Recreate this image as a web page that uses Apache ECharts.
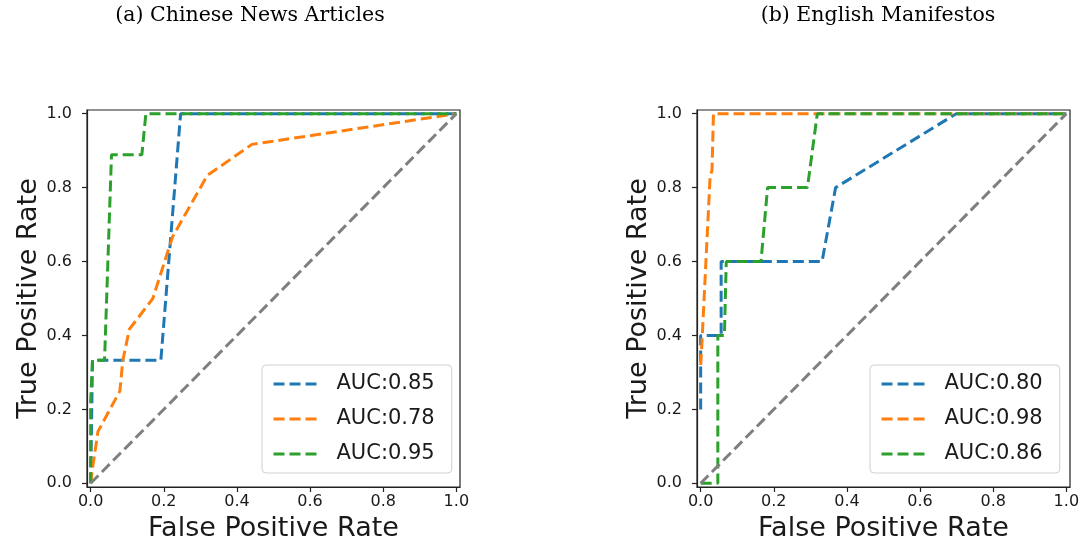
<!DOCTYPE html>
<html>
<head>
<meta charset="utf-8">
<script src="https://cdn.jsdelivr.net/npm/echarts@6/dist/echarts.min.js"></script>
<style>
html, body { margin: 0; padding: 0; background: #fff; }
#chart { width: 1087px; height: 550px; }
</style>
</head>
<body>
<div id="chart"></div>
<script>
// tick values shared by both panels
var rateTicks = [0, 0.2, 0.4, 0.6, 0.8, 1.0]

// (a) Chinese news articles
var newsNames = ['AUC:0.85', 'AUC:0.78', 'AUC:0.95']
var newsFpr1 = [0, 0.005, 0.192, 0.246, 1]
var newsTpr1 = [0, 0.333, 0.333, 1, 1]
var newsFpr2 = [0, 0.005, 0.02, 0.08, 0.088, 0.106, 0.17, 0.224, 0.319, 0.441, 1]
var newsTpr2 = [0, 0.04, 0.14, 0.25, 0.333, 0.417, 0.5, 0.667, 0.833, 0.917, 1]
var newsFpr3 = [0, 0, 0.005, 0.038, 0.057, 0.14, 0.151, 1]
var newsTpr3 = [0, 0.222, 0.333, 0.333, 0.889, 0.889, 1, 1]

// (b) English manifestos
var manifestoNames = ['AUC:0.80', 'AUC:0.98', 'AUC:0.86']
var manFpr1 = [0, 0, 0.056, 0.056, 0.332, 0.369, 0.699, 1]
var manTpr1 = [0.2, 0.4, 0.4, 0.6, 0.6, 0.8, 1, 1]
var manFpr2 = [0, 0.003, 0.026, 0.031, 0.035, 1]
var manTpr2 = [0.32, 0.37, 0.833, 0.846, 1, 1]
var manFpr3 = [0, 0.047, 0.047, 0.065, 0.07, 0.165, 0.183, 0.292, 0.319, 1]
var manTpr3 = [0, 0, 0.4, 0.4, 0.6, 0.6, 0.8, 0.8, 1, 1]

// random guess diagonal
var chanceFpr = [0, 1]
var chanceTpr = [0, 1]

var colors = ['#1f77b4', '#ff7f0e', '#2ca02c']
var font = 'DejaVu Sans'
var dash = [11, 5]

function rocSeries(name, fpr, tpr, color, idx) {
  return {
    name: name,
    type: 'line',
    xAxisIndex: idx,
    yAxisIndex: idx,
    data: fpr.map(function(x, i) { return [x, tpr[i]] }),
    symbol: 'none',
    showSymbol: false,
    silent: true,
    itemStyle: { color: color },
    lineStyle: { color: color, width: 3, type: dash }
  }
}

function xAxisFor(idx) {
  return {
    gridIndex: idx,
    type: 'value',
    min: -0.01,
    max: 1.01,
    name: 'False Positive Rate',
    nameLocation: 'middle',
    nameGap: 28,
    nameTextStyle: { fontFamily: font, fontSize: 27, color: '#1a1a1a' },
    axisLine: { show: true, onZero: false, lineStyle: { color: '#222', width: 1.2 } },
    axisTick: { show: true, length: 5, customValues: rateTicks, lineStyle: { color: '#222', width: 1.2 } },
    axisLabel: {
      customValues: rateTicks,
      margin: 7,
      fontFamily: font,
      fontSize: 16,
      color: '#1a1a1a',
      formatter: function(v) { return v.toFixed(1) }
    },
    splitLine: { show: false }
  }
}

function yAxisFor(idx) {
  return {
    gridIndex: idx,
    type: 'value',
    min: -0.01,
    max: 1.01,
    name: 'True Positive Rate',
    nameLocation: 'middle',
    nameGap: 43,
    nameTextStyle: { fontFamily: font, fontSize: 27, color: '#1a1a1a' },
    axisLine: { show: true, onZero: false, lineStyle: { color: '#222', width: 1.2 } },
    axisTick: { show: true, length: 5, customValues: rateTicks, lineStyle: { color: '#222', width: 1.2 } },
    axisLabel: {
      customValues: rateTicks,
      margin: 15,
      fontFamily: font,
      fontSize: 16,
      color: '#1a1a1a',
      formatter: function(v) { return v.toFixed(1) }
    },
    splitLine: { show: false }
  }
}

function legendFor(names, left) {
  return {
    data: names,
    left: left,
    top: 365,
    orient: 'vertical',
    selectedMode: false,
    backgroundColor: 'rgba(255,255,255,0.8)',
    borderColor: '#d0d0d0',
    borderWidth: 1,
    borderRadius: 4,
    padding: [8, 17, 8, 10],
    itemGap: 13,
    itemWidth: 46,
    itemHeight: 22,
    itemStyle: { opacity: 0 },
    lineStyle: { width: 3, type: dash },
    textStyle: { fontFamily: font, fontSize: 21, color: '#1a1a1a', lineHeight: 22, padding: [0, 0, 0, 12] }
  }
}

var chart = echarts.init(document.getElementById('chart'))

chart.setOption({
  animation: false,
  backgroundColor: '#fff',
  graphic: [
    {
      type: 'text', x: 250, y: 16,
      style: { text: '(a) Chinese News Articles', font: '20.5px "DejaVu Serif"', fill: '#000', textAlign: 'center', textVerticalAlign: 'middle' }
    },
    {
      type: 'text', x: 878, y: 16,
      style: { text: '(b) English Manifestos', font: '20.5px "DejaVu Serif"', fill: '#000', textAlign: 'center', textVerticalAlign: 'middle' }
    }
  ],
  grid: [
    { left: 87, top: 110, width: 373, height: 377, show: true, borderColor: '#222', borderWidth: 1.2 },
    { left: 697, top: 110, width: 373, height: 377, show: true, borderColor: '#222', borderWidth: 1.2 }
  ],
  xAxis: [xAxisFor(0), xAxisFor(1)],
  yAxis: [yAxisFor(0), yAxisFor(1)],
  legend: [legendFor(newsNames, 262), legendFor(manifestoNames, 870)],
  series: [
    rocSeries(newsNames[0], newsFpr1, newsTpr1, colors[0], 0),
    rocSeries(newsNames[1], newsFpr2, newsTpr2, colors[1], 0),
    rocSeries(newsNames[2], newsFpr3, newsTpr3, colors[2], 0),
    rocSeries('chance-a', chanceFpr, chanceTpr, '#7f7f7f', 0),
    rocSeries(manifestoNames[0], manFpr1, manTpr1, colors[0], 1),
    rocSeries(manifestoNames[1], manFpr2, manTpr2, colors[1], 1),
    rocSeries(manifestoNames[2], manFpr3, manTpr3, colors[2], 1),
    rocSeries('chance-b', chanceFpr, chanceTpr, '#7f7f7f', 1)
  ]
})
</script>
</body>
</html>
